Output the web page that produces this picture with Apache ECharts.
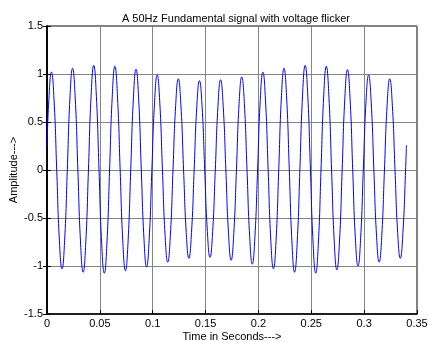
<!DOCTYPE html>
<html>
<head>
<meta charset="utf-8">
<script src="https://cdn.jsdelivr.net/npm/echarts@6/dist/echarts.min.js"></script>
<style>html,body{margin:0;padding:0;background:#fff}#c{width:428px;height:342px}</style>
</head>
<body>
<div id="c"></div>
<script>
const titleText = 'A 50Hz Fundamental signal with voltage flicker';
const xLabel = 'Time in Seconds--->';
const yLabel = 'Amplitude--->';
const xTicks = [0, 0.05, 0.1, 0.15, 0.2, 0.25, 0.3, 0.35];
const yTicks = [-1.5, -1, -0.5, 0, 0.5, 1, 1.5];

// sampling grid of the traced waveform (seconds)
const sampleStart = 0.0017;
const sampleStep = 0.0025;
// values, 8 per cycle (17 cycles)
const amplitude = [
  0.72,1.02,0.72,0,-0.73,-1.03,-0.73,0,
  0.75,1.06,0.75,0,-0.75,-1.065,-0.75,0,
  0.77,1.09,0.77,0,-0.76,-1.075,-0.76,0,
  0.76,1.08,0.76,0,-0.74,-1.05,-0.74,0,
  0.74,1.05,0.74,0,-0.71,-1.01,-0.71,0,
  0.70,0.99,0.70,0,-0.68,-0.96,-0.68,0,
  0.67,0.95,0.67,0,-0.65,-0.92,-0.65,0,
  0.66,0.93,0.66,0,-0.64,-0.91,-0.64,0,
  0.66,0.94,0.66,0,-0.66,-0.94,-0.66,0,
  0.69,0.97,0.69,0,-0.69,-0.98,-0.69,0,
  0.72,1.02,0.72,0,-0.73,-1.03,-0.73,0,
  0.75,1.06,0.75,0,-0.75,-1.065,-0.75,0,
  0.77,1.09,0.77,0,-0.76,-1.075,-0.76,0,
  0.76,1.08,0.76,0,-0.74,-1.04,-0.74,0,
  0.74,1.045,0.74,0,-0.71,-1.0,-0.71,0,
  0.70,0.99,0.70,0,-0.68,-0.96,-0.68,0,
  0.67,0.95,0.67,0,-0.65,-0.92,-0.65,0
];
const startPoint = [0, 0.24];
const endPoint = [0.34, 0.26];

const data = [startPoint];
amplitude.forEach((v, i) => data.push([sampleStart + i * sampleStep, v]));
data.push(endPoint);

const font = 'Liberation Sans, Arial, sans-serif';
const chart = echarts.init(document.getElementById('c'), null, {renderer: 'canvas'});
chart.setOption({
  animation: false,
  backgroundColor: '#fff',
  title: {
    text: titleText, left: 231, top: 8, textAlign: 'center',
    textStyle: {fontFamily: font, fontSize: 11, fontWeight: 'normal', color: '#000'}
  },
  grid: {left: 47, right: 11, top: 26, bottom: 28, show: true, borderColor: '#000', borderWidth: 1,
         containLabel: false, outerBoundsMode: 'none'},
  xAxis: [{
    type: 'value', min: xTicks[0], max: xTicks[xTicks.length - 1], interval: 0.05,
    name: xLabel, nameLocation: 'middle', nameGap: 17, nameMoveOverlap: false,
    nameTextStyle: {fontFamily: font, fontSize: 11, color: '#000'},
    axisLine: {show: true, onZero: false, lineStyle: {color: '#000', width: 1.5}},
    axisTick: {show: true, inside: true, length: 4, lineStyle: {color: '#000'}},
    axisLabel: {fontFamily: font, fontSize: 11, color: '#000', margin: 4},
    splitLine: {show: true, lineStyle: {color: '#858585', width: 1}}
  }],
  yAxis: [{
    type: 'value', min: yTicks[0], max: yTicks[yTicks.length - 1], interval: 0.5,
    name: yLabel, nameLocation: 'middle', nameGap: 28, nameRotate: 90, nameMoveOverlap: false,
    nameTextStyle: {fontFamily: font, fontSize: 11, color: '#000'},
    axisLine: {show: true, onZero: false, lineStyle: {color: '#000', width: 1.5}},
    axisTick: {show: true, inside: true, length: 4, lineStyle: {color: '#000'}},
    axisLabel: {fontFamily: font, fontSize: 11, color: '#000', margin: 4},
    splitLine: {show: true, lineStyle: {color: '#858585', width: 1}}
  }, {
    type: 'value', position: 'right', min: yTicks[0], max: yTicks[yTicks.length - 1], interval: 0.5,
    axisLine: {show: true, lineStyle: {color: '#000', width: 1.5}},
    axisTick: {show: true, inside: true, length: 4, lineStyle: {color: '#000'}},
    axisLabel: {show: false}, splitLine: {show: false}
  }],
  series: [{
    type: 'line', data: data, xAxisIndex: 0, yAxisIndex: 0,
    showSymbol: false, smooth: 0.5,
    lineStyle: {color: '#0000ff', width: 1}
  }]
});
</script>
</body>
</html>
